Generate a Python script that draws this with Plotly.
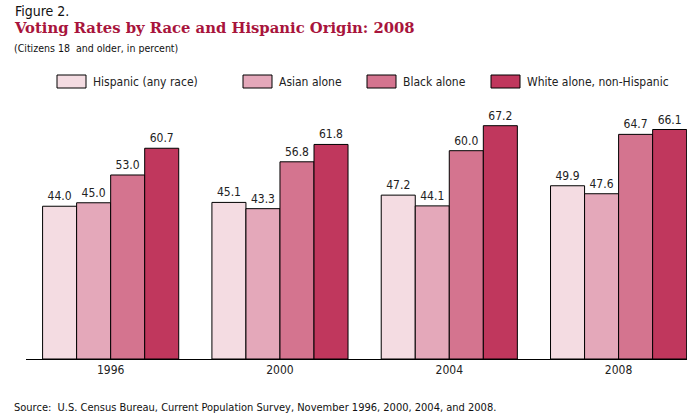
import plotly.graph_objects as go

years = ["1996", "2000", "2004", "2008"]
series_names = ["Hispanic (any race)", "Asian alone", "Black alone", "White alone, non-Hispanic"]
hispanic = [44.0, 45.1, 47.2, 49.9]
asian = [45.0, 43.3, 44.1, 47.6]
black = [53.0, 56.8, 60.0, 64.7]
white = [60.7, 61.8, 67.2, 66.1]
colors = ["#F4DCE2", "#E4A8BA", "#D4748F", "#C0375D"]

fig = go.Figure()
for name, vals, col in zip(series_names, [hispanic, asian, black, white], colors):
    fig.add_trace(go.Bar(
        x=years, y=vals, name=name,
        marker=dict(color=col, line=dict(color="#000000", width=1)),
        text=[f"{v:.1f}" for v in vals], textposition="outside",
        textfont=dict(family="DejaVu Sans Condensed, Open Sans", size=12, color="#222222"),
        cliponaxis=False, showlegend=False,
    ))

fig.update_layout(
    width=699, height=417,
    margin=dict(l=26, r=12, t=100, b=58),
    paper_bgcolor="white", plot_bgcolor="white",
    barmode="group", bargap=0.196, bargroupgap=0,
    xaxis=dict(range=[-0.5, 3.404], showline=True, linecolor="#000000", linewidth=1,
               ticks="", showgrid=False, zeroline=False,
               tickfont=dict(family="DejaVu Sans Condensed, Open Sans", size=12, color="#222222")),
    yaxis=dict(range=[0, 74.6], visible=False, showgrid=False, zeroline=False),
    font=dict(family="Open Sans"),
)

# Legend drawn manually
leg_x = [57, 243, 367, 491]
shapes = []
annotations = []
for lx, name, col in zip(leg_x, series_names, colors):
    shapes.append(dict(type="rect", xref="paper", yref="paper",
                       x0=(lx - 26) / 661, x1=(lx + 29 - 26) / 661,
                       y0=(359 - 88) / 259, y1=(359 - 75) / 259,
                       fillcolor=col, line=dict(color="#000000", width=1)))
    annotations.append(dict(xref="paper", yref="paper", x=(lx + 34 - 26) / 661,
                            y=(359 - 81.5) / 259, text=name, showarrow=False,
                            xanchor="left", yanchor="middle",
                            font=dict(family="DejaVu Sans Condensed, Open Sans", size=12, color="#222222")))

annotations += [
    dict(xref="paper", yref="paper", x=-13 / 661, y=(359 - 11) / 259, text="Figure 2.",
         showarrow=False, xanchor="left", yanchor="middle",
         font=dict(family="DejaVu Sans Condensed, Open Sans", size=14, color="#111111")),
    dict(xref="paper", yref="paper", x=-14 / 661, y=(359 - 28) / 259,
         text="<b>Voting Rates by Race and Hispanic Origin: 2008</b>",
         showarrow=False, xanchor="left", yanchor="middle",
         font=dict(family="DejaVu Serif", size=14.8, color="#A8143C")),
    dict(xref="paper", yref="paper", x=-14 / 661, y=(359 - 48) / 259,
         text="(Citizens 18  and older, in percent)",
         showarrow=False, xanchor="left", yanchor="middle",
         font=dict(family="DejaVu Sans Condensed, Open Sans", size=10.5, color="#111111")),
    dict(xref="paper", yref="paper", x=-14 / 661, y=(359 - 407) / 259,
         text="Source:  U.S. Census Bureau, Current Population Survey, November 1996, 2000, 2004, and 2008.",
         showarrow=False, xanchor="left", yanchor="middle",
         font=dict(family="DejaVu Sans Condensed, Open Sans", size=11, color="#111111")),
]
fig.update_layout(shapes=shapes, annotations=annotations)
fig.write_html("out.html")
